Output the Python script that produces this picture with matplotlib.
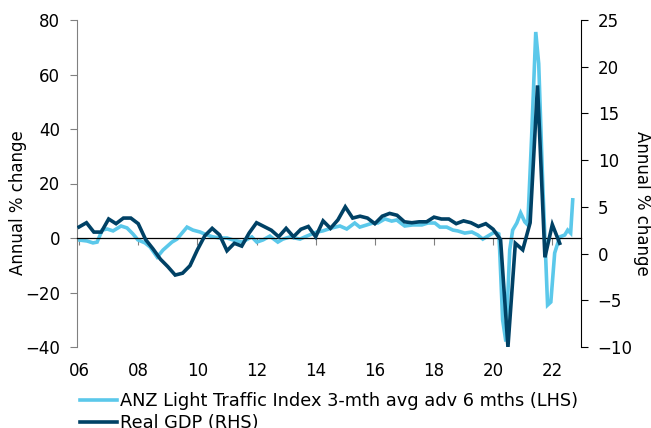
import matplotlib
matplotlib.use("Agg")
import matplotlib.pyplot as plt

# Real GDP, annual % change, quarterly from 2006 (RHS)
gdp_start = 2006.0
gdp = [2.85, 3.3, 2.3, 2.3, 3.7, 3.2, 3.8, 3.8, 3.2, 1.5, 0.5, -0.6,
       -1.4, -2.3, -2.1, -1.3, 0.4, 1.9, 2.7, 2.0, 0.3, 1.1, 0.8, 2.2,
       3.3, 2.9, 2.5, 1.8, 2.7, 1.8, 2.6, 2.9, 1.8, 3.5, 2.7, 3.6,
       5.0, 3.8, 4.0, 3.8, 3.2, 4.0, 4.3, 4.1, 3.4, 3.3, 3.4, 3.4,
       3.9, 3.7, 3.7, 3.2, 3.5, 3.3, 2.9, 3.2, 2.6, 1.5, -10.0, 1.1,
       0.4, 3.3, 18.0, -0.4, 3.1, 1.1]

# ANZ Light Traffic Index 3-mth avg, advanced 6 months (LHS)
lti_dates = [2005.97, 2006.27, 2006.47, 2006.61, 2006.78, 2006.95, 2007.15,
             2007.42, 2007.62, 2007.82, 2007.99, 2008.23, 2008.40, 2008.64,
             2008.84, 2009.14, 2009.31, 2009.48, 2009.65, 2009.85, 2010.09,
             2010.32, 2010.53, 2010.76, 2011.00, 2011.20, 2011.51, 2011.84,
             2012.01, 2012.22, 2012.45, 2012.72, 2012.89, 2013.13, 2013.47,
             2013.70, 2014.04, 2014.24, 2014.55, 2014.82, 2015.05, 2015.32,
             2015.49, 2015.73, 2015.93, 2016.10, 2016.34, 2016.57, 2016.74,
             2017.01, 2017.28, 2017.59, 2017.79, 2018.03, 2018.20, 2018.43,
             2018.64, 2018.80, 2019.04, 2019.28, 2019.48, 2019.65, 2019.82,
             2020.05, 2020.19, 2020.22, 2020.32, 2020.43, 2020.56, 2020.66,
             2020.80, 2020.93, 2021.07, 2021.17, 2021.30, 2021.44, 2021.54,
             2021.68, 2021.84, 2021.95, 2022.08, 2022.25, 2022.42, 2022.52,
             2022.62, 2022.69]
lti = [-0.7, -1.1, -1.8, -1.5, 2.9, 3.3, 2.6,
       4.4, 3.7, 1.5, -0.7, -1.8, -3.3, -7.0,
       -4.4, -1.5, -0.4, 1.8, 4.0, 2.9, 2.2,
       1.1, 0.4, 0.0, 0.0, -0.7, -1.5, 0.4,
       -1.5, -0.7, 0.7, -1.5, -0.4, 0.4, -0.4,
       0.7, 2.2, 2.6, 3.7, 4.4, 3.3, 5.5,
       4.0, 4.8, 5.5, 5.5, 7.0, 6.2, 6.6,
       4.4, 4.8, 4.8, 5.5, 5.5, 4.0, 4.0,
       2.9, 2.6, 1.8, 2.2, 1.1, -0.4, 0.7,
       2.2, 1.5, -4.4, -30.0, -38.0, -4.4, 2.9,
       5.5, 9.2, 5.9, 4.8, 37.0, 75.6, 64.0,
       18.7, -24.6, -23.5, -5.5, 0.4, 1.1, 2.9,
       1.8, 14.0]

year_ticks = list(range(2006, 2023, 2))
year_labels = ["%02d" % (y % 100) for y in year_ticks]

light = "#5BC8EA"
navy = "#004165"

gdp_dates = [gdp_start + 0.25 * i for i in range(len(gdp))]

plt.rcParams["font.family"] = "DejaVu Sans"
plt.rcParams["font.size"] = 12

fig = plt.figure(figsize=(6.51, 4.28), dpi=100)
ax = fig.add_axes([77 / 651, 1 - 347 / 428, 504 / 651, 327 / 428])
ax2 = ax.twinx()

ln1, = ax.plot(lti_dates, lti, color=light, lw=2.6, solid_joinstyle="miter",
               label="ANZ Light Traffic Index 3-mth avg adv 6 mths (LHS)")
ln2, = ax2.plot(gdp_dates, gdp, color=navy, lw=2.6, solid_joinstyle="miter",
                label="Real GDP (RHS)")

ax.set_xlim(2005.93, 2022.97)
ax.set_ylim(-40, 80)
ax.set_yticks(range(-40, 81, 20))
ax2.set_ylim(-10, 25)
ax2.set_yticks(range(-10, 26, 5))

# left axis
for s in ["top", "right"]:
    ax.spines[s].set_visible(False)
ax.spines["left"].set_color("#808080")
ax.spines["bottom"].set_position(("data", 0))
ax.spines["bottom"].set_color("black")
ax.spines["bottom"].set_linewidth(0.9)
ax.set_xticks(year_ticks)
ax.tick_params(axis="x", direction="out", length=5, color="#808080",
               labelbottom=False)
ax.tick_params(axis="y", direction="out", length=5, color="#808080", pad=7)

# right axis
for s in ["top", "left", "bottom"]:
    ax2.spines[s].set_visible(False)
ax2.spines["right"].set_color("black")
ax2.tick_params(axis="y", direction="out", length=5, color="black", pad=7)

# year labels under the plot
sec = ax.secondary_xaxis("bottom")
sec.spines["bottom"].set_visible(False)
sec.set_xticks(year_ticks)
sec.set_xticklabels(year_labels)
sec.tick_params(axis="x", length=0, pad=11)

ax.set_ylabel("Annual % change")
ax.yaxis.set_label_coords(-0.100, 0.44)
ax2.set_ylabel("Annual % change", rotation=270, va="bottom")
ax2.yaxis.set_label_coords(1.103, 0.44)

fig.legend(handles=[ln1, ln2], loc="upper left",
           bbox_to_anchor=(80 / 651, 1 - 392 / 428), frameon=False,
           borderpad=0, borderaxespad=0, handlelength=2.1,
           handletextpad=0.17, labelspacing=0.25, fontsize=12.8)

fig.savefig("out.png", dpi=100)
